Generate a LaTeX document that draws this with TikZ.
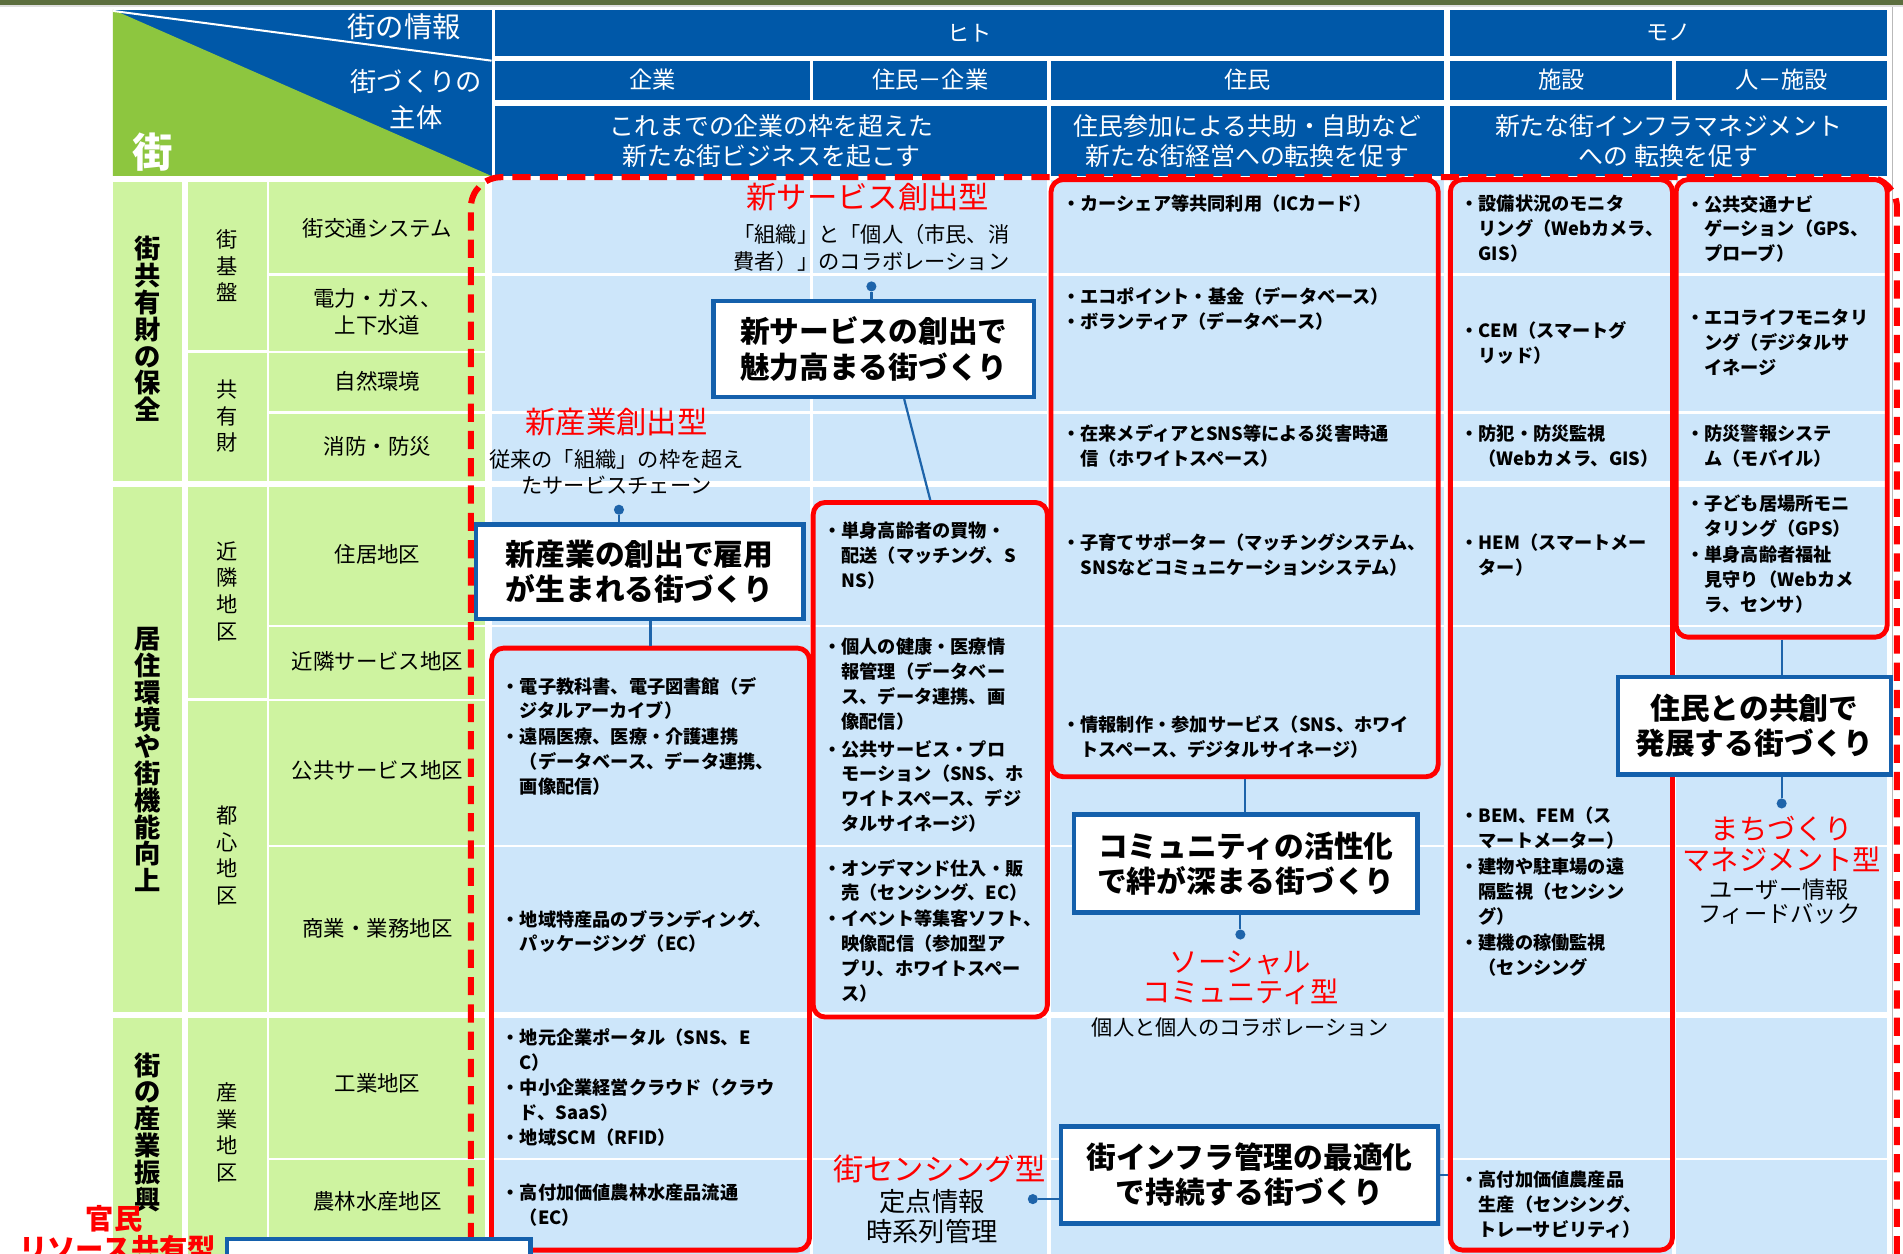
\documentclass[tikz,border=0pt]{standalone}
\usepackage{fontspec}
\setmainfont{Noto Sans CJK JP}
\usetikzlibrary{fit,calc,shadows}

\definecolor{hdrblue}{RGB}{0,88,168}
\definecolor{trigreen}{RGB}{141,198,63}
\definecolor{cellgreen}{RGB}{206,243,160}
\definecolor{cellblue}{RGB}{205,230,250}
\definecolor{boxblue}{RGB}{20,96,172}
\definecolor{linkblue}{RGB}{30,100,170}
\definecolor{barolive}{RGB}{92,110,62}

\newcommand{\cont}{\hspace*{1em}}

\begin{document}
\begin{tikzpicture}[x=0.6pt, y=-0.6pt,
    hdr/.style={fill=hdrblue, inner sep=0pt},
    hdrtxt/.style={text=white, inner sep=0pt, align=center},
    redbox/.style={draw=red, line width=2.4pt, rounded corners=6pt, inner sep=0pt},
    bigdash/.style={draw=red, line width=3pt, dash pattern=on 9pt off 4.5pt, rounded corners=15pt},
    callout/.style={draw=boxblue, line width=2.2pt, fill=white, inner sep=0pt,
        drop shadow={shadow xshift=1.2pt, shadow yshift=-1.2pt, opacity=.35}},
    callouttxt/.style={inner sep=0pt, align=center, font=\fontsize{14.7}{17.5}\selectfont\bfseries},
    bul/.style={anchor=north west, inner sep=0pt, align=left, font=\fontsize{9}{12.3}\selectfont\bfseries},
    typelbl/.style={text=red, inner sep=0pt, align=center, font=\fontsize{15}{15}\selectfont},
    typelbltwo/.style={text=red, inner sep=0pt, align=center, font=\fontsize{14}{15}\selectfont},
    desc/.style={inner sep=0pt, align=center, font=\fontsize{10.5}{13.2}\selectfont},
    conn/.style={draw=linkblue, line width=1.1pt},
    conndot/.style={circle, fill=linkblue, inner sep=0pt, minimum size=5pt},
    areatxt/.style={inner sep=0pt, align=center, font=\fontsize{10.6}{13.8}\selectfont},
    subtxt/.style={inner sep=0pt, align=center, font=\fontsize{10.5}{13.2}\selectfont},
    cattxt/.style={inner sep=0pt, align=center, font=\fontsize{13}{13.3}\selectfont\bfseries},
    sharelbl/.style={text=red, inner sep=0pt, font=\fontsize{14}{15}\selectfont\bfseries}]

    \clip (0,0) rectangle (1568,1033);
    \fill[white] (0,0) rectangle (1568,1033);
    \fill[barolive] (0,0) rectangle (1568,4);
    \fill[gray!25] (0,4) rectangle (1568,6);
    \draw[gray!55, line width=0.6pt] (1559.5,6) -- (1559.5,1033);

    % corner of the header
    \fill[hdrblue] (93,8) rectangle (405,145);
    \fill[trigreen] (93,8) -- (405,145) -- (93,145) -- cycle;
    \draw[white, line width=1pt] (93,9) -- (405,50);
    \node[hdrtxt, font=\fontsize{14}{16}\selectfont] (info) at (333,22) {街の情報};
    \node[hdrtxt, font=\fontsize{13}{17.4}\selectfont] (actor) at (343,82) {街づくりの\\主体};
    \node[hdrtxt, font=\fontsize{20}{20}\selectfont\bfseries] (machi) at (126,125) {街};

    % header cells
    \node[hdr, fit={(408,8) (1190,46)}] (hito) {};
    \node[hdr, fit={(1195,8) (1555,46)}] (mono) {};
    \node[hdr, fit={(408,50) (667,82)}] (kigyohd) {};
    \node[hdr, fit={(670,50) (863,82)}] (jukighd) {};
    \node[hdr, fit={(866,50) (1190,82)}] (juminhd) {};
    \node[hdr, fit={(1195,50) (1378,82)}] (shisetsuhd) {};
    \node[hdr, fit={(1381,50) (1555,82)}] (hitoshihd) {};
    \node[hdr, fit={(408,87) (863,145)}] (bizhd) {};
    \node[hdr, fit={(866,87) (1190,145)}] (mgmthd) {};
    \node[hdr, fit={(1195,87) (1555,145)}] (infrahd) {};
    \node[hdrtxt, font=\fontsize{11}{13}\selectfont] (hitotxt) at (hito) {ヒト};
    \node[hdrtxt, font=\fontsize{11}{13}\selectfont] (monotxt) at (mono) {モノ};
    \node[hdrtxt, font=\fontsize{11.5}{13}\selectfont] (kigyohdtxt) at (kigyohd) {企業};
    \node[hdrtxt, font=\fontsize{11.5}{13}\selectfont] (jukighdtxt) at (jukighd) {住民－企業};
    \node[hdrtxt, font=\fontsize{11.5}{13}\selectfont] (juminhdtxt) at (juminhd) {住民};
    \node[hdrtxt, font=\fontsize{11.5}{13}\selectfont] (shisetsuhdtxt) at (shisetsuhd) {施設};
    \node[hdrtxt, font=\fontsize{11.5}{13}\selectfont] (hitoshihdtxt) at (hitoshihd) {人－施設};
    \node[hdrtxt, font=\fontsize{12.3}{15}\selectfont] (bizhdtxt) at (bizhd) {これまでの企業の枠を超えた\\新たな街ビジネスを起こす};
    \node[hdrtxt, font=\fontsize{12.3}{15}\selectfont] (mgmthdtxt) at (mgmthd) {住民参加による共助・自助など\\新たな街経営への転換を促す};
    \node[hdrtxt, font=\fontsize{12.3}{15}\selectfont] (infrahdtxt) at (infrahd) {新たな街インフラマネジメント\\への 転換を促す};

    % left columns
    \foreach \xa/\ya/\xb/\yb in {93/150/150/396, 93/401/150/834, 93/839/150/1040,
        155/150/220/288, 155/291/220/396, 155/401/220/575, 155/578/220/834, 155/839/220/1040,
        222/150/400/225, 222/227/400/289, 222/291/400/339, 222/341/400/396, 222/401/400/515,
        222/517/400/576, 222/578/400/696, 222/698/400/834, 222/839/400/954, 222/956/400/1040}
        \fill[cellgreen] (\xa,\ya) rectangle (\xb,\yb);

    % body cells
    \foreach \xa/\xb in {405/667, 670/863, 866/1190, 1195/1378, 1381/1555}
        \foreach \ya/\yb in {148/225, 227/339, 341/396, 401/515, 517/696, 698/834, 839/954, 956/1040}
            \fill[cellblue] (\xa,\ya) rectangle (\xb,\yb);

    \node[cattxt] (hozen) at (121.5,271) {街\\共\\有\\財\\の\\保\\全};
    \node[cattxt] (kojo) at (121.5,626) {居\\住\\環\\境\\や\\街\\機\\能\\向\\上};
    \node[cattxt] (shinko) at (121.5,933) {街\\の\\産\\業\\振\\興};

    \node[subtxt] (kiban) at (187.5,219) {街\\基\\盤};
    \node[subtxt] (kyoyu) at (187.5,343) {共\\有\\財};
    \node[subtxt] (kinrin) at (187.5,487) {近\\隣\\地\\区};
    \node[subtxt] (toshin) at (187.5,705) {都\\心\\地\\区};
    \node[subtxt] (sangyo) at (187.5,933) {産\\業\\地\\区};

    \node[areatxt] (kotsu) at (311,188) {街交通システム};
    \node[areatxt] (denryoku) at (311,257) {電力・ガス、\\上下水道};
    \node[areatxt] (shizen) at (311,314) {自然環境};
    \node[areatxt] (shobo) at (311,368) {消防・防災};
    \node[areatxt] (jukyo) at (311,457) {住居地区};
    \node[areatxt] (kinsvc) at (311,545) {近隣サービス地区};
    \node[areatxt] (kokyo) at (311,635) {公共サービス地区};
    \node[areatxt] (shogyo) at (311,765) {商業・業務地区};
    \node[areatxt] (kogyo) at (311,893) {工業地区};
    \node[areatxt] (norin) at (311,990) {農林水産地区};

    % red groupings
    \node[redbox, fit={(405,534) (667,1030)}] (kigyo) {};
    \node[redbox, fit={(670,414) (863,838)}] (jukig) {};
    \node[redbox, fit={(866,148) (1185,640)}] (jumin) {};
    \node[redbox, fit={(1195,148) (1378,1030)}] (shisetsu) {};
    \node[redbox, fit={(1381,148) (1555,525)}] (hitoshi) {};
    \draw[bigdash] (388,1045) -- (388,146) -- (1563,146) -- (1563,1045);

    % 企業
    \node[bul] (k1) at (413,557.5) {・電子教科書、電子図書館（デ\\\cont ジタルアーカイブ）};
    \node[bul] (k2) at (413,599.5) {・遠隔医療、医療・介護連携\\\cont（データベース、データ連携、\\\cont 画像配信）};
    \node[bul] (k3) at (413,749.5) {・地域特産品のブランディング、\\\cont パッケージング（EC）};
    \node[bul] (k4) at (413,847.5) {・地元企業ポータル（SNS、E\\\cont C）};
    \node[bul] (k5) at (413,888.5) {・中小企業経営クラウド（クラウ\\\cont ド、SaaS）};
    \node[bul] (k6) at (413,929.5) {・地域SCM（RFID）};
    \node[bul] (k7) at (413,975.5) {・高付加価値農林水産品流通\\\cont（EC）};
    % 住民－企業
    \node[bul] (jk1) at (678,429.5) {・単身高齢者の買物・\\\cont 配送（マッチング、S\\\cont NS）};
    \node[bul] (jk2) at (678,525.5) {・個人の健康・医療情\\\cont 報管理（データベー\\\cont ス、データ連携、画\\\cont 像配信）};
    \node[bul] (jk3) at (678,609.5) {・公共サービス・プロ\\\cont モーション（SNS、ホ\\\cont ワイトスペース、デジ\\\cont タルサイネージ）};
    \node[bul] (jk4) at (678,707.5) {・オンデマンド仕入・販\\\cont 売（センシング、EC）};
    \node[bul] (jk5) at (678,749.5) {・イベント等集客ソフト、\\\cont 映像配信（参加型ア\\\cont プリ、ホワイトスペー\\\cont ス）};
    % 住民
    \node[bul] (j1) at (875,160.5) {・カーシェア等共同利用（ICカード）};
    \node[bul] (j2) at (875,236.5) {・エコポイント・基金（データベース）};
    \node[bul] (j3) at (875,257.5) {・ボランティア（データベース）};
    \node[bul] (j4) at (875,349.5) {・在来メディアとSNS等による災害時通\\\cont 信（ホワイトスペース）};
    \node[bul] (j5) at (875,439.5) {・子育てサポーター（マッチングシステム、\\\cont SNSなどコミュニケーションシステム）};
    \node[bul] (j6) at (875,589.5) {・情報制作・参加サービス（SNS、ホワイ\\\cont トスペース、デジタルサイネージ）};
    % 施設
    \node[bul] (s1) at (1203,160.5) {・設備状況のモニタ\\\cont リング（Webカメラ、\\\cont GIS）};
    \node[bul] (s2) at (1203,264.5) {・CEM（スマートグ\\\cont リッド）};
    \node[bul] (s3) at (1203,349.5) {・防犯・防災監視\\\cont（Webカメラ、GIS）};
    \node[bul] (s4) at (1203,439.5) {・HEM（スマートメー\\\cont ター）};
    \node[bul] (s5) at (1203,664.5) {・BEM、FEM（ス\\\cont マートメーター）};
    \node[bul] (s6) at (1203,706.5) {・建物や駐車場の遠\\\cont 隔監視（センシン\\\cont グ）};
    \node[bul] (s7) at (1203,769.5) {・建機の稼働監視\\\cont（センシング};
    \node[bul] (s8) at (1203,964.5) {・高付加価値農産品\\\cont 生産（センシング、\\\cont トレーサビリティ）};
    % 人－施設
    \node[bul] (h1) at (1389,160.5) {・公共交通ナビ\\\cont ゲーション（GPS、\\\cont プローブ）};
    \node[bul] (h2) at (1389,254.5) {・エコライフモニタリ\\\cont ング（デジタルサ\\\cont イネージ};
    \node[bul] (h3) at (1389,349.5) {・防災警報システ\\\cont ム（モバイル）};
    \node[bul] (h4) at (1389,407.5) {・子ども居場所モニ\\\cont タリング（GPS）};
    \node[bul] (h5) at (1389,449.5) {・単身高齢者福祉\\\cont 見守り（Webカメ\\\cont ラ、センサ）};

    % types of town making
    \node[typelbl] (svctype) at (715,162) {新サービス創出型};
    \node[desc] (svcdesc) at (718,204) {「組織」と「個人（市民、消\\費者）」のコラボレーション};
    \node[typelbl] (indtype) at (508,348) {新産業創出型};
    \node[desc] (inddesc) at (508,389) {従来の「組織」の枠を超え\\たサービスチェーン};
    \node[typelbltwo] (commtype) at (1022,805.5) {ソーシャル\\コミュニティ型};
    \node[desc] (commdesc) at (1022,847) {個人と個人のコラボレーション};
    \node[typelbl] (senstype) at (774,963) {街センシング型};
    \node[desc, font=\fontsize{13}{15}\selectfont] (sensdesc) at (768,1002.5) {定点情報\\時系列管理};
    \node[typelbltwo] (mgmttype) at (1468,695.5) {まちづくり\\マネジメント型};
    \node[desc, font=\fontsize{11.5}{12}\selectfont] (mgmtdesc) at (1466,743) {ユーザー情報\\フィードバック};
    \node[sharelbl] (kanmin) at (94,1004) {官民};
    \node[sharelbl] (resource) at (97,1029) {リソース共有型};

    % callouts
    \node[callout, fit={(588,248) (852,327)}] (svcbox) {};
    \node[callout, fit={(392,432) (662,510)}] (indbox) {};
    \node[callout, fit={(885,671) (1168,752)}] (commbox) {};
    \node[callout, fit={(874,928) (1185,1008)}] (infrabox) {};
    \node[callout, fit={(1333,558) (1558,638)}] (kyosobox) {};
    \node[callout, fit={(187,1021) (437,1080)}] (sharebox) {};
    \node[callouttxt] (svctxt) at (svcbox) {新サービスの創出で\\魅力高まる街づくり};
    \node[callouttxt] (indtxt) at (indbox) {新産業の創出で雇用\\が生まれる街づくり};
    \node[callouttxt] (commtxt) at (commbox) {コミュニティの活性化\\で絆が深まる街づくり};
    \node[callouttxt] (infratxt) at (infrabox) {街インフラ管理の最適化\\で持続する街づくり};
    \node[callouttxt] (kyosotxt) at (kyosobox) {住民との共創で\\発展する街づくり};

    \node[conndot] (svcdot) at (718,236) {};
    \node[conndot] (inddot) at (510,420) {};
    \node[conndot] (commdot) at (1022,770) {};
    \node[conndot] (infradot) at (851,988) {};
    \node[conndot] (kyosodot) at (1468,662) {};

    \draw[conn] (svcdot) -- (svcdot |- svcbox.north);
    \draw[conn] ($(svcbox.south)+(25,0)$) -- (jukig.north);
    \draw[conn] (inddot) -- (inddot |- indbox.north);
    \draw[conn] (kigyo.north |- indbox.south) -- (kigyo.north);
    \draw[conn] (jumin.south) -- (jumin.south |- commbox.north);
    \draw[conn] (commdot |- commbox.south) -- (commdot);
    \draw[conn] (infradot) -- (infradot -| infrabox.west);
    \draw[conn] (infrabox.east) -- (infrabox.east -| shisetsu.west);
    \draw[conn] (hitoshi.south) -- (hitoshi.south |- kyosobox.north);
    \draw[conn] (kyosodot |- kyosobox.south) -- (kyosodot);
\end{tikzpicture}
\end{document}
